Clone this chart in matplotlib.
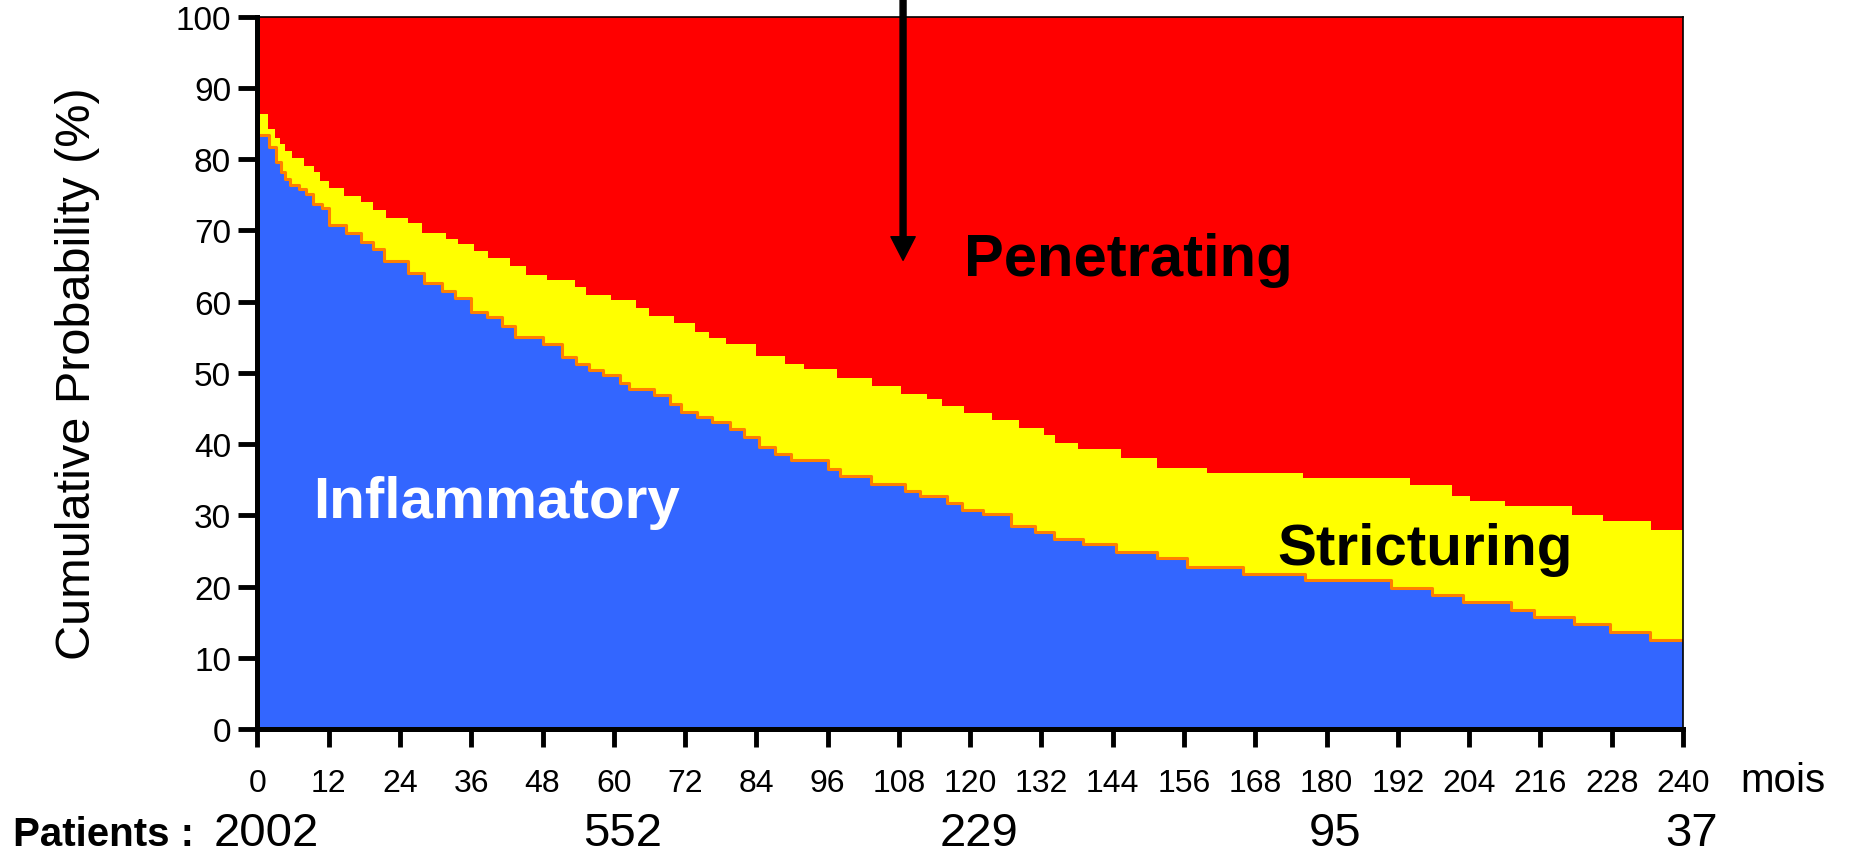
import numpy as np
import matplotlib
matplotlib.use("Agg")
import matplotlib.pyplot as plt

plt.rcParams['font.family'] = ['Liberation Sans', 'DejaVu Sans']

# upper edge of the yellow (stricturing) band, months / %
strict_t = [0, 1.7, 2.9, 3.8, 4.7, 5.9, 7.8, 9.5, 10.5, 12.1, 14.5, 17.4, 19.4, 21.7,
            25.4, 27.7, 31.7, 33.7, 36.5, 38.8, 42.5, 45.3, 48.7, 53.4, 55.3, 59.5,
            63.7, 66.0, 70.2, 73.7, 76.0, 78.9, 83.9, 88.8, 92.0, 97.6, 103.5, 108.4,
            112.7, 115.3, 118.9, 123.6, 128.3, 132.5, 134.3, 138.2, 145.4, 151.4,
            159.9, 176.0, 194.1, 201.1, 204.2, 210.0, 221.3, 226.6, 234.7, 240]
strict_v = [86.3, 84.3, 83.0, 82.2, 81.1, 80.1, 79.0, 78.2, 76.9, 75.9, 74.8, 74.0, 72.9, 71.8,
            71.0, 69.6, 68.8, 68.1, 67.1, 66.1, 65.0, 63.8, 63.1, 62.1, 61.0, 60.2,
            59.1, 58.0, 57.0, 55.8, 54.9, 54.1, 52.3, 51.2, 50.5, 49.3, 48.1, 47.0,
            46.3, 45.3, 44.4, 43.4, 42.3, 41.3, 40.1, 39.3, 38.0, 36.7,
            36.0, 35.3, 34.2, 32.7, 32.0, 31.3, 30.1, 29.2, 28.0, 28.0]

# upper edge of the blue (inflammatory) area
inflam_t = [0, 2.0, 3.1, 4.0, 4.7, 5.4, 7.0, 8.1, 9.3, 10.8, 12.0, 14.9, 17.5, 19.4, 21.3,
            25.4, 28.0, 31.1, 33.3, 35.9, 38.6, 41.2, 43.4, 48.0, 51.3, 53.6, 55.8, 58.1,
            61.1, 62.6, 66.8, 69.4, 71.3, 74.0, 76.6, 79.6, 81.9, 84.5, 87.1, 89.8, 96.1,
            98.0, 103.3, 109.1, 111.5, 116.1, 118.7, 122.1, 126.8, 130.9, 134.1, 139.0,
            144.6, 151.5, 156.5, 166.0, 176.4, 190.8, 197.7, 202.9, 211.0, 214.9, 221.6,
            227.7, 234.4, 240]
inflam_v = [83.2, 81.5, 79.4, 78.0, 77.0, 76.1, 75.6, 74.9, 73.5, 72.9, 70.5, 69.4, 68.1, 67.2, 65.5,
            63.8, 62.4, 61.3, 60.2, 58.3, 57.6, 56.4, 54.8, 53.8, 52.0, 51.0, 50.1, 49.4,
            48.3, 47.5, 46.6, 45.4, 44.2, 43.5, 42.8, 41.9, 40.7, 39.3, 38.3, 37.5, 36.3,
            35.3, 34.1, 33.1, 32.4, 31.5, 30.5, 29.9, 28.3, 27.4, 26.4, 25.7,
            24.6, 23.7, 22.5, 21.5, 20.6, 19.6, 18.6, 17.6, 16.5, 15.5, 14.5,
            13.4, 12.3, 12.3]

xticks = list(range(0, 241, 12))
yticks = list(range(0, 101, 10))
patients_t = [0, 60, 120, 180, 240]
patients_n = ["2002", "552", "229", "95", "37"]

fig = plt.figure(figsize=(18.52, 8.53), dpi=100)
ax = fig.add_axes([0.139, 0.1442, 0.7697, 0.8350])

# combined time grid so both edges can be filled between
t_all = np.unique(np.concatenate([strict_t, inflam_t]))
s_idx = np.searchsorted(strict_t, t_all, side="right") - 1
i_idx = np.searchsorted(inflam_t, t_all, side="right") - 1
s_on = np.array(strict_v)[s_idx]
i_on = np.array(inflam_v)[i_idx]

ax.fill_between(t_all, s_on, 100, step="post", color="#FF0000", lw=0)
ax.fill_between(t_all, i_on, s_on, step="post", color="#FFFF00", lw=0)
ax.fill_between(t_all, 0, i_on, step="post", color="#3366FF", lw=0)
ax.step(inflam_t, np.array(inflam_v) + 0.25, where="post", color="#FF7F00", lw=2.2)

ax.set_xlim(0, 240)
ax.set_ylim(0, 100)
ax.set_xticks(xticks)
ax.set_yticks(yticks)
ax.tick_params(axis="x", length=13, width=3.5, pad=15, labelsize=23)
ax.tick_params(axis="y", length=14, width=3.5, pad=5, labelsize=24)
for s in ["left", "bottom"]:
    ax.spines[s].set_linewidth(3.6)
for s in ["top", "right"]:
    ax.spines[s].set_linewidth(1.2)

ax.set_ylabel("Cumulative Probability (%)", fontsize=35)
ax.yaxis.set_label_coords(-0.1105, 0.5)

ax.text(119, 63.8, "Penetrating", fontsize=43, fontweight="bold", color="black")
ax.text(9.3, 29.7, "Inflammatory", fontsize=42, fontweight="bold", color="white")
ax.text(171.7, 23.2, "Stricturing", fontsize=42, fontweight="bold", color="black")

ax.annotate("", xy=(108.7, 65.8), xytext=(108.7, 103),
            arrowprops=dict(facecolor="black", edgecolor="black", width=4.3,
                            headwidth=17.5, headlength=17, shrink=0),
            annotation_clip=False)

ax.text(249.7, -8.7, "mois", fontsize=29, clip_on=False)
ax.text(-41.2, -16.3, "Patients :", fontsize=29, fontweight="bold", clip_on=False)
for t, n in zip(patients_t, patients_n):
    ax.text(t + 1.5, -16.3, n, fontsize=34, ha="center", clip_on=False)

fig.savefig("out.png", dpi=100)
